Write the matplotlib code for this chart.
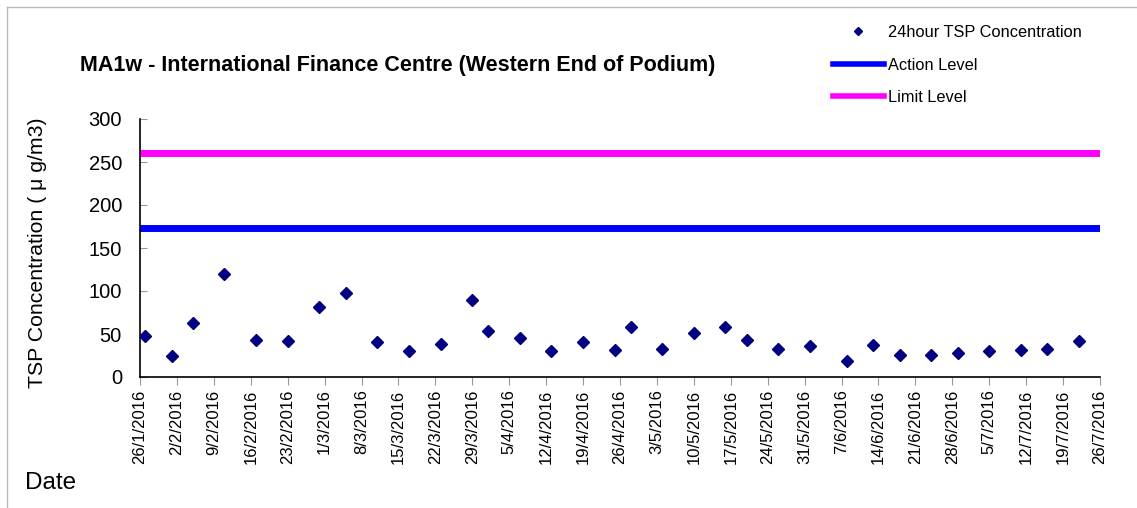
import numpy as np
import pandas as pd
import matplotlib
matplotlib.use("Agg")
import matplotlib.pyplot as plt
from matplotlib.lines import Line2D

plt.rcParams['font.family'] = ['Liberation Sans', 'DejaVu Sans']

# sampling dates and 24hr TSP results (ug/m3)
dates = ["2016-01-27", "2016-02-01", "2016-02-05", "2016-02-11", "2016-02-17",
         "2016-02-23", "2016-02-29", "2016-03-05", "2016-03-11", "2016-03-17",
         "2016-03-23", "2016-03-29", "2016-04-01", "2016-04-07", "2016-04-13",
         "2016-04-19", "2016-04-25", "2016-04-28", "2016-05-04", "2016-05-10",
         "2016-05-16", "2016-05-20", "2016-05-26", "2016-06-01", "2016-06-08",
         "2016-06-13", "2016-06-18", "2016-06-24", "2016-06-29", "2016-07-05",
         "2016-07-11", "2016-07-16", "2016-07-22"]
tsp = [48, 25, 63, 120, 43, 42, 81, 98, 41, 30, 38, 90, 53, 45, 30,
       41, 31, 58, 33, 51, 58, 43, 32, 36, 19, 37, 26, 26, 28, 30, 31, 32, 42]
action_level = 173
limit_level = 260
start, end = "2016-01-26", "2016-07-26"

dates = pd.to_datetime(dates)
ticks = pd.date_range(start, end, freq="7D")
tick_labels = [f"{d.day}/{d.month}/{d.year}" for d in ticks]

fig = plt.figure(figsize=(11.37, 5.08), dpi=100)
ax = fig.add_axes([140/1137, 1 - 377/508, 960/1137, 258/508])

ax.axhline(action_level, color="#0000FF", lw=5, zorder=2)
ax.axhline(limit_level, color="#FF00FF", lw=5, zorder=2)
ax.plot(dates, tsp, "D", color="#000080", ms=6.5, ls="none", zorder=3)

ax.set_xlim(pd.Timestamp(start), pd.Timestamp(end))
ax.set_ylim(0, 300)
ax.set_yticks(np.arange(0, 301, 50))
ax.set_xticks(ticks)
ax.set_xticklabels(tick_labels, rotation=90, fontsize=12)
ax.tick_params(axis="y", labelsize=14.5, direction="in", length=5, color="#999999", pad=13)
ax.tick_params(axis="x", direction="out", length=6, color="#999999", pad=3)

for s in ["top", "right"]:
    ax.spines[s].set_visible(False)
for s in ["left", "bottom"]:
    ax.spines[s].set_color("black")
    ax.spines[s].set_linewidth(1.2)

ax.set_ylabel("TSP Concentration ( μ g/m3)", fontsize=15.3)
ax.yaxis.set_label_coords(-0.097, 0.48)
fig.text(25/1137, 1 - 483/508, "Date", fontsize=17.5, va="center", ha="left")
fig.text(80/1137, 1 - 66/508, "MA1w - International Finance Centre (Western End of Podium)",
         fontsize=15.5, fontweight="bold", va="center", ha="left")

handles = [
    Line2D([], [], marker="D", color="#000080", ls="none", ms=4),
    Line2D([], [], color="#0000FF", lw=4),
    Line2D([], [], color="#FF00FF", lw=4),
]
labels = ["24hour TSP Concentration", "Action Level", "Limit Level"]
fig.legend(handles, labels, loc="upper left", bbox_to_anchor=(833/1137, 1 - 25/508),
           frameon=False, fontsize=11.8, handlelength=3.1, handletextpad=0.25,
           labelspacing=1.07, borderaxespad=0, borderpad=0)

# outer frame (left and top edges)
fig.add_artist(Line2D([7/1137, 7/1137], [0, 1 - 7/508], color="#BBBBBB", lw=1))
fig.add_artist(Line2D([7/1137, 1], [1 - 7/508, 1 - 7/508], color="#BBBBBB", lw=1))

fig.savefig("out.png", dpi=100)
